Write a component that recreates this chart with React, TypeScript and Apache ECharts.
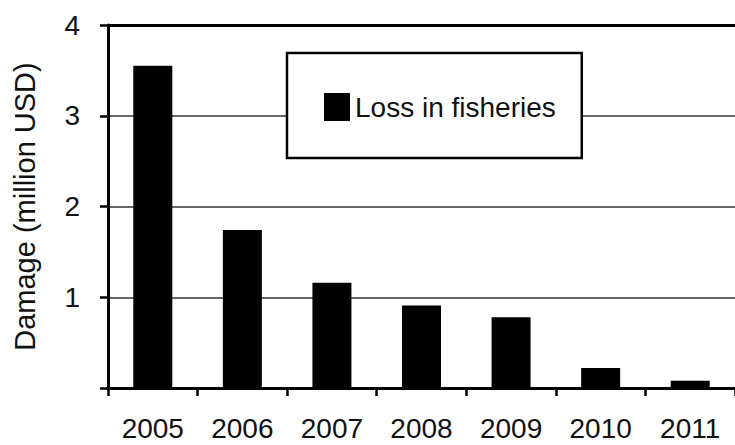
import React, { useEffect, useRef } from "react";
import * as echarts from "echarts";

const years = ["2005", "2006", "2007", "2008", "2009", "2010", "2011"];
const lossInFisheries = [3.55, 1.74, 1.16, 0.91, 0.78, 0.22, 0.08];
const seriesName = "Loss in fisheries";
const yTicks = [0, 1, 2, 3, 4];

const FONT = "'Liberation Sans', Arial, sans-serif";

export default function App() {
  const ref = useRef<HTMLDivElement>(null);
  useEffect(() => {
    if (!ref.current) return;
    const chart = echarts.init(ref.current, undefined, { renderer: "svg" });
    chart.setOption({
      animation: false,
      backgroundColor: "#ffffff",
      textStyle: { fontFamily: FONT },
      grid: { left: 108, top: 25, width: 634, height: 363, containLabel: false },
      legend: {
        data: [seriesName],
        icon: "rect",
        left: 287,
        top: 53,
        orient: "horizontal",
        padding: [40, 26, 37, 37],
        itemWidth: 26,
        itemHeight: 28,
        itemGap: 8,
        borderColor: "#000",
        borderWidth: 2.5,
        backgroundColor: "#fff",
        textStyle: { fontFamily: FONT, fontSize: 28, color: "#111" },
      },
      xAxis: {
        type: "category",
        data: years,
        position: "bottom",
        axisLine: { show: true, lineStyle: { color: "#000", width: 3 } },
        axisTick: { show: true, length: 8, inside: false, lineStyle: { color: "#000", width: 2.5 } },
        axisLabel: { fontFamily: FONT, fontSize: 28, color: "#111", margin: 26, interval: 0 },
        splitLine: { show: false },
      },
      yAxis: {
        type: "value",
        min: yTicks[0],
        max: yTicks[yTicks.length - 1],
        interval: 1,
        name: "Damage (million USD)",
        nameLocation: "middle",
        nameGap: 69,
        nameTextStyle: { fontFamily: FONT, fontSize: 29, color: "#111" },
        axisLine: { show: true, lineStyle: { color: "#000", width: 3 } },
        axisTick: { show: true, length: 8, inside: false, lineStyle: { color: "#000", width: 2.5 } },
        axisLabel: {
          fontFamily: FONT,
          fontSize: 28,
          color: "#111",
          margin: 28,
          formatter: (v: number) => (v === 0 ? "" : String(v)),
        },
        splitLine: { show: true, lineStyle: { color: "#333", width: 1.5 } },
      },
      series: [
        {
          name: seriesName,
          type: "bar",
          data: lossInFisheries,
          barWidth: 39,
          itemStyle: { color: "#000" },
          markLine: {
            silent: true,
            symbol: "none",
            label: { show: false },
            lineStyle: { color: "#000", width: 3, type: "solid" },
            data: [{ yAxis: yTicks[yTicks.length - 1] }],
          },
        },
      ],
    });
    return () => chart.dispose();
  }, []);
  return <div ref={ref} style={{ width: 735, height: 445, position: "fixed", left: 0, top: 0 }} />;
}
